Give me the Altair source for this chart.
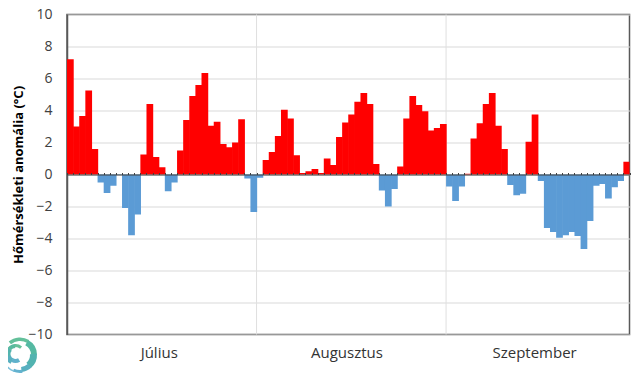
import altair as alt
import pandas as pd

julius = [7.2, 3.0, 3.65, 5.25, 1.6, -0.5, -1.15, -0.7, -0.03, -2.1, -3.8, -2.5, 1.25, 4.4, 1.1, 0.45,
          -1.05, -0.5, 1.5, 3.4, 4.9, 5.6, 6.35, 3.05, 3.3, 1.9, 1.7, 2.0, 3.45, -0.25, -2.35]
augusztus = [-0.2, 0.9, 1.4, 2.4, 4.05, 3.5, 1.2, 0.1, 0.2, 0.35, 0.1, 1.0, 0.6, 2.35, 3.25, 3.75,
             4.55, 5.1, 4.4, 0.65, -1.0, -2.0, -0.9, 0.5, 3.5, 4.9, 4.35, 3.95, 2.75, 2.9, 3.15]
szeptember = [-0.75, -1.65, -0.75, 0.05, 2.25, 3.2, 4.4, 5.1, 3.05, 1.6, -0.65, -1.3, -1.2, 2.05, 3.75,
              -0.4, -3.35, -3.6, -3.95, -3.8, -3.6, -3.85, -4.65, -2.9, -0.7, -0.6, -1.5, -0.8, -0.4, 0.8]
month_label_pos = [15, 45.7, 76.4]
month_edges = [31, 62]
y_ticks = [-10, -8, -6, -4, -2, 0, 2, 4, 6, 8, 10]

# logo: ring segments of the small spiral (angles in radians, radii in px)
outer_start = [-0.7, 0.5, 1.5, 2.4, 3.0, 3.5]
outer_end = [0.55, 1.55, 2.45, 3.05, 3.55, 3.95]
outer_r1 = [14, 11, 10, 12, 15, 16.5]
outer_r2 = [17.5, 17, 17, 17, 18, 18]
outer_col = ["#63c09a", "#55b9a2", "#52b3b0", "#58b0c0", "#63b2cf", "#7cc0da"]
inner_start = [2.6, 3.6, 4.4, 5.4, 6.2]
inner_end = [3.65, 4.45, 5.45, 6.25, 7.0]
inner_r1 = [5, 5, 5, 6, 7]
inner_r2 = [9, 11, 11.5, 10, 10]
inner_col = ["#5fb1cb", "#58b0c0", "#53b4ae", "#58ba9e", "#66c098"]

values = julius + augusztus + szeptember
df = pd.DataFrame({"day": range(len(values)), "value": values})
# a hair of overlap between neighbouring bars hides the antialiasing seams
df["end"] = df["day"] + 1.1
df["sign"] = ["pos" if v >= 0 else "neg" for v in values]

x_scale = alt.Scale(domain=[0, len(values)], nice=False, zero=False)
y_scale = alt.Scale(domain=[-10, 10], nice=False)
sign_scale = alt.Scale(domain=["pos", "neg"], range=["#ff0000", "#5b9bd5"])

y_axis = alt.Axis(
    values=y_ticks, grid=True, gridColor="#d9d9d9", gridWidth=1, ticks=False, domain=True,
    domainColor="#595959", domainWidth=1.5, labelFont="Open Sans", labelFontSize=14, labelColor="#404040",
    labelPadding=15, title="Hőmérsékleti anomália (°C)", titleFont="Open Sans", titleFontSize=13,
    titleFontWeight="bold", titleColor="#000000", titlePadding=2,
)

edges = alt.Chart(pd.DataFrame({"edge": month_edges})).mark_rule(color="#dfdfdf", strokeWidth=1).encode(
    x=alt.X("edge:Q", scale=x_scale, axis=alt.Axis(
        values=month_label_pos, orient="bottom", grid=False, ticks=False, domain=False,
        labelFont="Open Sans", labelFontSize=15, labelColor="#333333", labelPadding=11, labelFlush=False,
        labelExpr="datum.value < 31 ? 'Július' : datum.value < 62 ? 'Augusztus' : 'Szeptember'", title=None,
    )),
)

bars = alt.Chart(df).mark_bar(binSpacing=0, strokeWidth=0, clip=True).encode(
    x=alt.X("day:Q", scale=x_scale, axis=alt.Axis(
        values=list(range(len(values) + 1)), orient="top", offset=-160, labels=False, grid=False, ticks=True,
        tickSize=2, tickColor="#404040", tickWidth=1, domain=True, domainColor="#404040", domainWidth=1.2,
        title=None, zindex=1,
    )),
    x2="end:Q",
    y=alt.Y("value:Q", scale=y_scale, axis=y_axis),
    y2=alt.datum(0),
    color=alt.Color("sign:N", scale=sign_scale, legend=None),
)


def ring(start, end, r1, r2, col, cx, cy):
    tbl = pd.DataFrame({"t1": start, "t2": end, "r1": r1, "r2": r2, "c": col})
    return alt.Chart(tbl).mark_arc(clip=False).encode(
        theta=alt.Theta("t1:Q", scale=None),
        theta2="t2:Q",
        radius=alt.Radius("r1:Q", scale=None),
        radius2="r2:Q",
        color=alt.Color("c:N", scale=None),
        x=alt.value(cx),
        y=alt.value(cy),
    )


logo_outer = ring(outer_start, outer_end, outer_r1, outer_r2, outer_col, -47, 340.5)
logo_inner = ring(inner_start, inner_end, inner_r1, inner_r2, inner_col, -51.5, 339.5)

chart = alt.layer(edges, bars, logo_outer, logo_inner).resolve_axis(x="independent").resolve_scale(color="independent").properties(
    width=562.5, height=320, background="white",
    padding={"left": 59, "top": 6.5, "right": 2, "bottom": 39},
    autosize=alt.AutoSizeParams(type="none"),
).configure_view(stroke="#595959", strokeWidth=1.5)

chart.save("out.html", embed_options={"renderer": "svg", "actions": False})
